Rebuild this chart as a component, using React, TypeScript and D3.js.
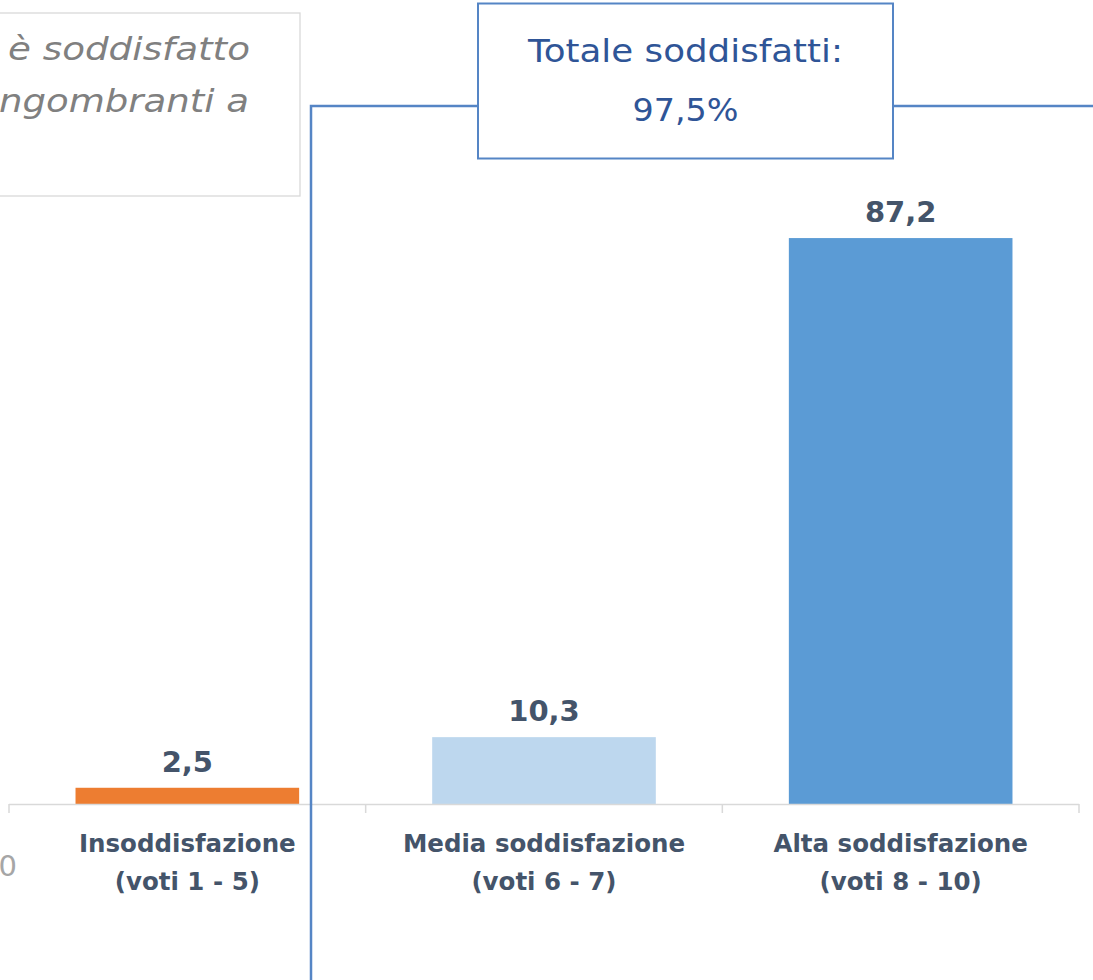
import React from "react";
import * as d3 from "d3";

const categories = ["Insoddisfazione|(voti 1 - 5)", "Media soddisfazione|(voti 6 - 7)", "Alta soddisfazione|(voti 8 - 10)"];
const values = [2.5, 10.3, 87.2];
const valueLabels = ["2,5", "10,3", "87,2"];
const barColors = ["#ED7D31", "#BDD7EE", "#5B9BD5"];
const calloutLines = ["Totale soddisfatti:", "97,5%"];
const noteLines = ["è soddisfatto", "ngombranti a"];
const yTickLabel = "0";

const W = 1093;
const H = 980;
const FONT = "'DejaVu Sans', 'Liberation Sans', sans-serif";

export default function App() {
  const x = d3.scaleBand<string>().domain(categories).range([9, 1079]).paddingInner(0.373).paddingOuter(0.1865);
  const y = d3.scaleLinear().domain([0, 100]).range([804, 155]);
  const bands = categories.map((c) => x(c)! - x.step() * x.paddingInner() / 2);
  const tickXs = [...bands, 1079];
  const textColor = "#44546A";
  const blue = "#5585C5";
  const noteLen = [242, 250];
  const calloutLen = [315, 106];

  return (
    <svg width={W} height={H} style={{ position: "absolute", left: 0, top: 0, display: "block" }}>
      <rect x={0} y={0} width={W} height={H} fill="#fff" />
      {/* note box (cropped) */}
      <rect x={-20} y={13} width={320} height={183} fill="#fff" stroke="#D9D9D9" strokeWidth={1.3} />
      {noteLines.map((l, i) => (
        <text key={i} x={i === 0 ? 8 : -1} y={60 + i * 52} textLength={noteLen[i]} lengthAdjust="spacingAndGlyphs" fontFamily={FONT} fontStyle="italic" fontSize={32} fill="#808080">
          {l}
        </text>
      ))}
      {/* bars */}
      {values.map((v, i) => (
        <rect key={i} x={x(categories[i])} y={y(v)} width={x.bandwidth()} height={y(0) - y(v)} fill={barColors[i]} />
      ))}
      {/* axis */}
      <line x1={9} x2={1079} y1={y(0) + 0.5} y2={y(0) + 0.5} stroke="#D9D9D9" strokeWidth={1.5} />
      {tickXs.map((t, i) => (
        <line key={i} x1={t} x2={t} y1={y(0)} y2={y(0) + 9} stroke="#D9D9D9" strokeWidth={1.5} />
      ))}
      {/* value labels */}
      {values.map((v, i) => (
        <text key={i} x={x(categories[i])! + x.bandwidth() / 2} y={y(v) - 16} textAnchor="middle" fontFamily={FONT} fontWeight="bold" fontSize={29} fill={textColor}>
          {valueLabels[i]}
        </text>
      ))}
      {/* category labels */}
      {categories.map((c, i) =>
        c.split("|").map((line, j) => (
          <text key={i + "-" + j} x={x(c)! + x.bandwidth() / 2} y={852 + j * 38} textAnchor="middle" fontFamily={FONT} fontWeight="bold" fontSize={24.5} fill={textColor}>
            {line}
          </text>
        ))
      )}
      <text x={17} y={876} textAnchor="end" fontFamily={FONT} fontSize={29} fill="#A6A6A6">{yTickLabel}</text>
      {/* bracket */}
      <polyline points={`311,${H} 311,106 478,106`} fill="none" stroke={blue} strokeWidth={2.5} />
      <line x1={893} x2={W} y1={106} y2={106} stroke={blue} strokeWidth={2.5} />
      <rect x={478} y={3.5} width={415} height={155} fill="#fff" stroke={blue} strokeWidth={2} />
      {calloutLines.map((l, i) => (
        <text key={i} x={685.5 - calloutLen[i] / 2} y={62 + i * 59} textLength={calloutLen[i]} lengthAdjust="spacingAndGlyphs" fontFamily={FONT} fontSize={32} fill="#2F5597">
          {l}
        </text>
      ))}
    </svg>
  );
}
